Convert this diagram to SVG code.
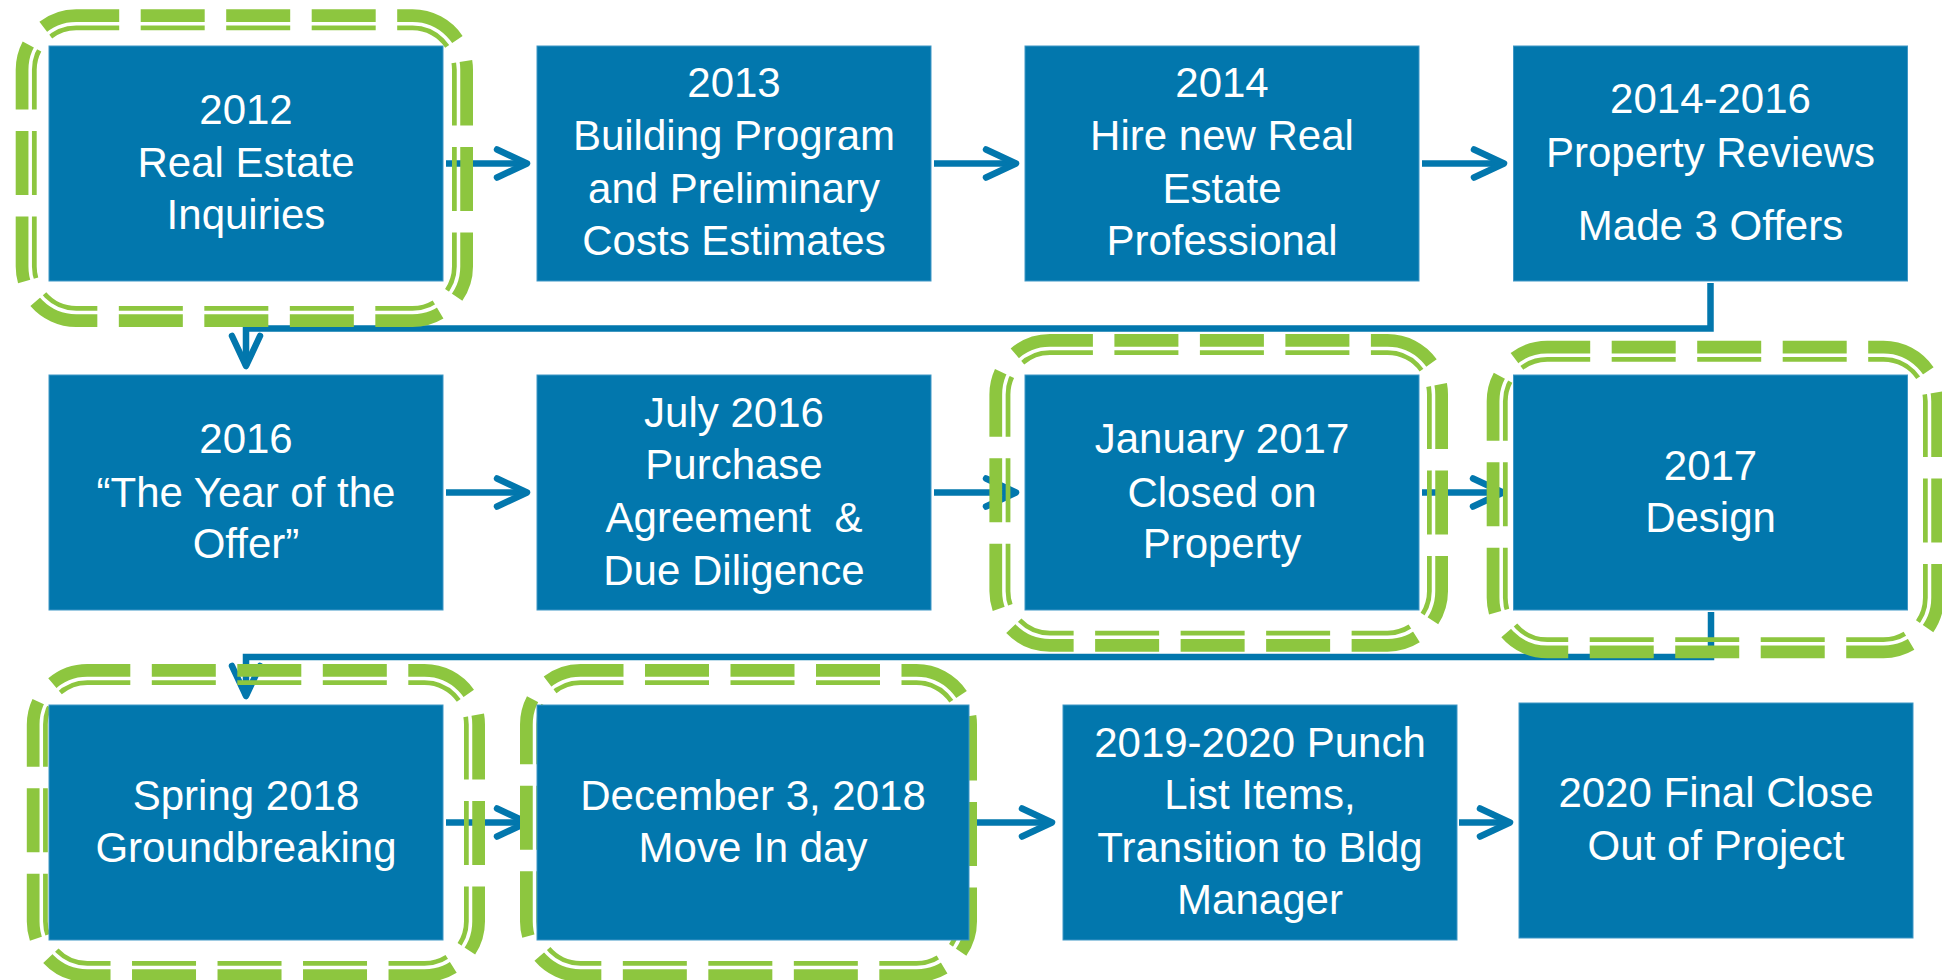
<svg xmlns="http://www.w3.org/2000/svg" width="1942" height="980" viewBox="0 0 1942 980">
  <style>
    .box { fill: #0277ad; stroke: #3f97c6; stroke-width: 1; }
    .lbl { fill: #ffffff; font-family: "Liberation Sans", Arial, sans-serif; font-size: 42px; text-anchor: middle; white-space: pre; }
    .conn { fill: none; stroke: #0277ad; stroke-width: 6.5; stroke-linejoin: miter; }
    .arr { marker-end: url(#ah); }
    .hl { fill: none; stroke: #8dc63f; stroke-width: 21; stroke-dasharray: 64 21.5; stroke-dashoffset: 21; }
    .gap { fill: none; stroke: #000000; stroke-width: 3.5; }
  </style>
  <defs>
    <marker id="ah" markerUnits="userSpaceOnUse" viewBox="0 0 40 32" markerWidth="40" markerHeight="32" refX="33" refY="16" orient="auto" overflow="visible">
      <path d="M3,2 L33,16 L3,30" fill="none" stroke="#0277ad" stroke-width="6.5" stroke-linecap="round" stroke-linejoin="round"/>
    </marker>
    <mask id="gapmask" maskUnits="userSpaceOnUse" x="0" y="0" width="1942" height="980">
      <rect x="0" y="0" width="1942" height="980" fill="#ffffff"/>
      <rect class="gap" x="30.2" y="23.8" width="428.3" height="288.7" rx="46"/>
      <rect class="gap" x="1003.9" y="348.5" width="429.6" height="288.7" rx="46"/>
      <rect class="gap" x="1501.2" y="355.2" width="428.3" height="288.6" rx="46"/>
      <rect class="gap" x="41.3" y="678.5" width="429.2" height="289" rx="46"/>
      <rect class="gap" x="534.5" y="678.5" width="428" height="289" rx="46"/>
    </mask>
  </defs>
  <rect x="0" y="0" width="1942" height="980" fill="#ffffff"/>

  <g id="connectors">
    <path class="conn arr" d="M446,163.5 H527"/>
    <path class="conn arr" d="M934,163.5 H1016"/>
    <path class="conn arr" d="M1422,163.5 H1504"/>
    <path class="conn arr" d="M1710.5,283 V328.5 H246 V366"/>
    <path class="conn arr" d="M446,492.5 H527"/>
    <path class="conn arr" d="M934,492.5 H1016"/>
    <path class="conn arr" d="M1422,492.5 H1503"/>
    <path class="conn arr" d="M1711,612 V657 H246 V696"/>
    <path class="conn arr" d="M446,822.5 H527"/>
    <path class="conn arr" d="M972,822.5 H1052"/>
    <path class="conn arr" d="M1459,822.5 H1510"/>
  </g>

  <g id="highlights" mask="url(#gapmask)">
    <rect class="hl" x="26.2" y="19.8" width="436.3" height="296.7" rx="50"/>
    <rect class="hl" x="999.9" y="344.5" width="437.6" height="296.7" rx="50"/>
    <rect class="hl" x="1497.2" y="351.2" width="436.3" height="296.6" rx="50"/>
    <rect class="hl" x="37.3" y="674.5" width="437.2" height="297" rx="50"/>
    <rect class="hl" x="530.5" y="674.5" width="436" height="297" rx="50"/>
  </g>

  <g id="n2012">
    <rect class="box" x="49" y="46" width="394" height="235"/>
    <text class="lbl" x="246" y="124">2012</text>
    <text class="lbl" x="246" y="176.7">Real Estate</text>
    <text class="lbl" x="246" y="229">Inquiries</text>
  </g>
  <g id="n2013">
    <rect class="box" x="537" y="46" width="394" height="235"/>
    <text class="lbl" x="734" y="96.7">2013</text>
    <text class="lbl" x="734" y="150">Building Program</text>
    <text class="lbl" x="734" y="203">and Preliminary</text>
    <text class="lbl" x="734" y="255">Costs Estimates</text>
  </g>
  <g id="n2014">
    <rect class="box" x="1025" y="46" width="394" height="235"/>
    <text class="lbl" x="1222" y="96.7">2014</text>
    <text class="lbl" x="1222" y="150">Hire new Real</text>
    <text class="lbl" x="1222" y="203">Estate</text>
    <text class="lbl" x="1222" y="255">Professional</text>
  </g>
  <g id="n2014-2016">
    <rect class="box" x="1513.5" y="46" width="394" height="235"/>
    <text class="lbl" x="1710.5" y="113">2014-2016</text>
    <text class="lbl" x="1710.5" y="166.7">Property Reviews</text>
    <text class="lbl" x="1710.5" y="240">Made 3 Offers</text>
  </g>

  <g id="n2016">
    <rect class="box" x="49" y="375" width="394" height="235"/>
    <text class="lbl" x="246" y="453.3">2016</text>
    <text class="lbl" x="246" y="506.7">“The Year of the</text>
    <text class="lbl" x="246" y="558.3">Offer”</text>
  </g>
  <g id="nJuly2016">
    <rect class="box" x="537" y="375" width="394" height="235"/>
    <text class="lbl" x="734" y="426.7">July 2016</text>
    <text class="lbl" x="734" y="479">Purchase</text>
    <text class="lbl" x="734" y="531.7">Agreement  &amp;</text>
    <text class="lbl" x="734" y="585">Due Diligence</text>
  </g>
  <g id="nJan2017">
    <rect class="box" x="1025" y="375" width="394" height="235"/>
    <text class="lbl" x="1222" y="453.3">January 2017</text>
    <text class="lbl" x="1222" y="506.7">Closed on</text>
    <text class="lbl" x="1222" y="558.3">Property</text>
  </g>
  <g id="n2017Design">
    <rect class="box" x="1513.5" y="375" width="394" height="235"/>
    <text class="lbl" x="1710.5" y="480">2017</text>
    <text class="lbl" x="1710.5" y="531.7">Design</text>
  </g>

  <g id="nSpring2018">
    <rect class="box" x="49" y="705" width="394" height="235"/>
    <text class="lbl" x="246" y="810">Spring 2018</text>
    <text class="lbl" x="246" y="861.7">Groundbreaking</text>
  </g>
  <g id="nDec2018">
    <rect class="box" x="537" y="705" width="432" height="235"/>
    <text class="lbl" x="753" y="810">December 3, 2018</text>
    <text class="lbl" x="753" y="861.7">Move In day</text>
  </g>
  <g id="nPunch">
    <rect class="box" x="1063" y="705" width="394" height="235"/>
    <text class="lbl" x="1260" y="756.7">2019-2020 Punch</text>
    <text class="lbl" x="1260" y="809">List Items,</text>
    <text class="lbl" x="1260" y="861.7">Transition to Bldg</text>
    <text class="lbl" x="1260" y="914">Manager</text>
  </g>
  <g id="nClose">
    <rect class="box" x="1519" y="703" width="394" height="235"/>
    <text class="lbl" x="1716" y="806.7">2020 Final Close</text>
    <text class="lbl" x="1716" y="860">Out of Project</text>
  </g>
</svg>
